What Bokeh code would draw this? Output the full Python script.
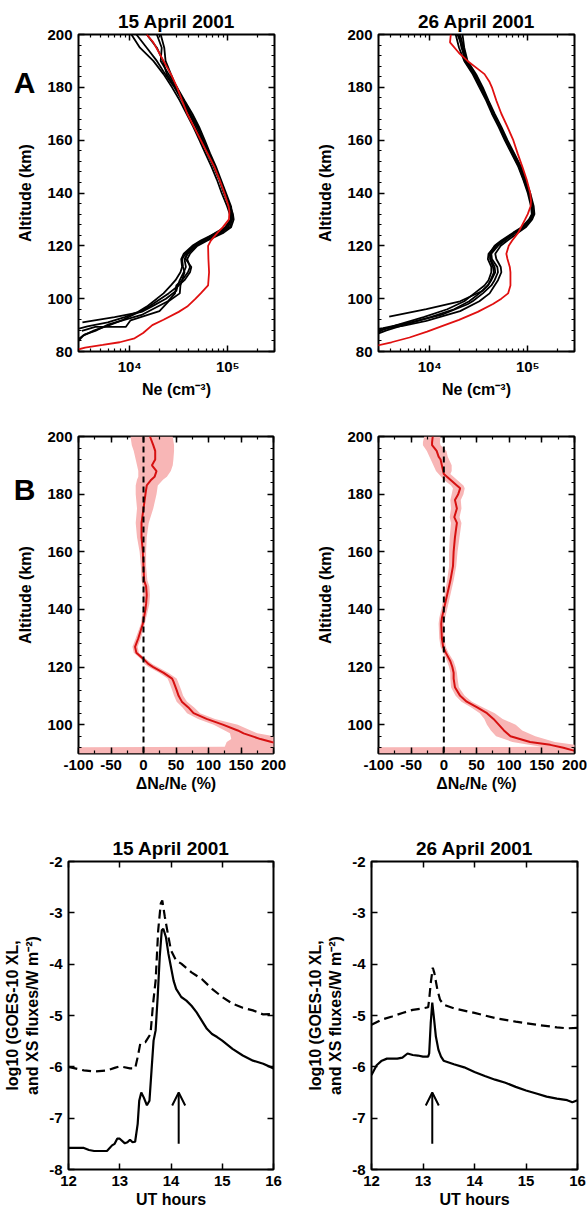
from bokeh.plotting import figure
from bokeh.layouts import column, row
from bokeh.models import (Range1d, LinearAxis, LogAxis, FixedTicker, SingleIntervalTicker,
                          Span, Arrow, OpenHead)
from bokeh.embed import file_html
from bokeh.resources import INLINE

# ---------------- DATA ----------------
TITLES = ["15 April 2001", "26 April 2001"]
LETTERS = ["A", "B"]
LETTER_ALT = [182.0, 181.6]   # altitude level at which the panel letters sit

# Panel A: electron density profiles (Ne, cm^-3) vs altitude (km)
A_ALT_UPPER = [200, 195, 190, 185, 180, 175, 170, 165, 160, 155, 150, 145, 140, 135, 132, 130,
               127, 125, 122, 120, 117, 115, 112, 110, 107, 105]

# 15 April, black profiles
L1_ALT = A_ALT_UPPER + [103, 100, 97, 95, 93, 91]
L1_NE = [1.04e4, 1.27e4, 1.74e4, 2.21e4, 2.70e4, 3.24e4, 3.80e4, 4.45e4, 5.14e4, 5.91e4, 6.82e4, 7.76e4,
         8.67e4, 9.85e4, 1.05e5, 1.08e5, 1.01e5, 8.67e4, 5.97e4, 4.70e4, 3.92e4, 3.62e4, 3.74e4, 3.56e4,
         3.24e4, 3.09e4, 2.99e4, 2.34e4, 1.67e4, 1.32e4, 7.0e3, 3.29e3]
L2_ALT = A_ALT_UPPER + [102, 99, 95.3, 91.8, 89.3, 89.3, 87.8]
L2_NE = [1.17e4, 1.49e4, 1.89e4, 2.30e4, 2.85e4, 3.42e4, 4.02e4, 4.70e4, 5.42e4, 6.21e4, 7.17e4, 8.2e4,
         9.1e4, 1.04e5, 1.10e5, 1.11e5, 1.05e5, 8.2e4, 5.52e4, 4.45e4, 3.71e4, 3.42e4, 3.5e4, 3.62e4,
         3.42e4, 3.29e4, 3.24e4, 2.49e4, 2.01e4, 1.02e4, 9.1e3, 4.45e3, 3.25e3]
L3_ALT = A_ALT_UPPER + [102, 99, 94, 90.3, 87.8, 86.5, 84.7, 83.5]
L3_NE = [1.49e4, 1.89e4, 2.18e4, 2.39e4, 2.93e4, 3.50e4, 4.12e4, 4.89e4, 5.65e4, 6.45e4, 7.4e4, 8.4e4,
         9.4e4, 1.06e5, 1.13e5, 1.15e5, 1.08e5, 9.1e4, 6.21e4, 4.89e4, 4.12e4, 3.86e4, 4.12e4, 3.92e4,
         3.42e4, 2.99e4, 2.9e4, 2.45e4, 1.35e4, 6.1e3, 4.45e3, 3.5e3, 3.0e3, 2.8e3]
L4_ALT = A_ALT_UPPER + [102, 100, 97, 95, 93, 91, 89.5, 88.7]
L4_NE = [1.89e4, 2.12e4, 2.07e4, 2.49e4, 3.04e4, 3.62e4, 4.35e4, 5.1e4, 5.82e4, 6.6e4, 7.58e4, 8.53e4,
         9.6e4, 1.08e5, 1.11e5, 1.10e5, 9.7e4, 7.76e4, 5.3e4, 4.35e4, 3.56e4, 3.35e4, 3.42e4, 3.29e4,
         2.93e4, 2.63e4, 2.21e4, 1.89e4, 1.49e4, 1.22e4, 8.9e3, 5.97e3, 3.7e3, 3.04e3]
L5_ALT = A_ALT_UPPER + [102, 100, 97, 95, 92, 90, 88, 86, 84, 83]
L5_NE = [2.07e4, 2.25e4, 2.32e4, 2.63e4, 2.99e4, 3.56e4, 4.18e4, 4.98e4, 5.52e4, 6.3e4, 7.28e4, 8.3e4,
         9.24e4, 1.05e5, 1.08e5, 1.07e5, 9.4e4, 7.58e4, 5.65e4, 4.52e4, 3.8e4, 3.71e4, 4.25e4, 4.12e4,
         3.62e4, 3.16e4, 2.49e4, 2.07e4, 1.58e4, 1.25e4, 8.53e3, 6.21e3, 4.35e3, 3.35e3, 3.0e3, 2.7e3]
# 15 April, red profile
RL_ALT = [200, 197, 193, 190, 185, 180, 175, 170, 165, 160, 155, 150, 145, 140, 135, 133, 130, 127, 125,
          122, 120, 115, 110, 105, 102, 100, 97, 95, 92, 90, 87, 85, 83.5, 82.5, 81.5, 80.5]
RL_NE = [1.49e4, 1.74e4, 2.0e4, 2.21e4, 2.63e4, 3.04e4, 3.42e4, 3.86e4, 4.52e4, 5.3e4, 6.21e4, 7.28e4,
         8.25e4, 9.24e4, 1.02e5, 1.04e5, 1.03e5, 8.88e4, 7.88e4, 6.72e4, 6.3e4, 6.35e4, 6.45e4, 6.3e4,
         5.3e4, 4.7e4, 3.86e4, 3.16e4, 2.21e4, 1.7e4, 1.37e4, 1.12e4, 7.9e3, 5.3e3, 3.5e3, 2.8e3]

# 26 April, black profiles
R1_ALT = A_ALT_UPPER + [103, 99, 96, 93.2]
R1_NE = [1.84e4, 1.99e4, 2.25e4, 2.74e4, 3.21e4, 3.77e4, 4.31e4, 5.04e4, 5.82e4, 6.82e4, 8.0e4, 9.0e4,
         1.0e5, 1.08e5, 1.10e5, 1.03e5, 8.67e4, 7.12e4, 5.38e4, 4.59e4, 4.08e4, 4.18e4, 4.59e4, 4.66e4,
         4.25e4, 3.92e4, 3.48e4, 2.04e4, 9.24e3, 3.86e3]
R2_ALT = A_ALT_UPPER + [102, 99, 97.9, 94.1, 90.9, 88.8, 88.6]
R2_NE = [1.99e4, 2.11e4, 2.34e4, 2.85e4, 3.34e4, 3.92e4, 4.49e4, 5.26e4, 6.05e4, 7.06e4, 8.25e4, 9.24e4,
         1.03e5, 1.11e5, 1.14e5, 1.08e5, 9.24e4, 7.5e4, 5.82e4, 4.97e4, 4.25e4, 4.31e4, 4.89e4, 4.97e4,
         4.59e4, 4.25e4, 3.48e4, 2.74e4, 2.43e4, 1.37e4, 6.21e3, 3.34e3, 2.97e3]
R3_ALT = A_ALT_UPPER + [102, 99, 95.3, 91.6, 89.7, 88.4]
R3_NE = [2.16e4, 2.25e4, 2.43e4, 2.97e4, 3.48e4, 3.98e4, 4.59e4, 5.38e4, 6.21e4, 7.28e4, 8.53e4, 9.53e4,
         1.06e5, 1.15e5, 1.17e5, 1.11e5, 9.53e4, 8.0e4, 6.21e4, 5.3e4, 4.66e4, 4.78e4, 5.3e4, 5.38e4,
         4.97e4, 4.59e4, 4.08e4, 3.21e4, 2.04e4, 9.24e3, 5.3e3, 3.04e3]
R4_ALT = A_ALT_UPPER + [102, 99, 96, 93, 90, 88, 87.2]
R4_NE = [1.92e4, 2.16e4, 2.28e4, 2.81e4, 3.29e4, 3.86e4, 4.38e4, 5.14e4, 5.91e4, 6.94e4, 8.12e4, 9.1e4,
         1.02e5, 1.10e5, 1.11e5, 1.06e5, 8.95e4, 7.28e4, 5.6e4, 4.66e4, 3.98e4, 3.92e4, 4.25e4, 4.25e4,
         3.98e4, 3.62e4, 2.85e4, 2.25e4, 1.51e4, 8.66e3, 4.59e3, 3.21e3, 2.97e3]
R5_ALT = A_ALT_UPPER + [102, 99, 96, 93, 90, 88, 86.8]
R5_NE = [2.04e4, 2.21e4, 2.39e4, 2.90e4, 3.39e4, 3.92e4, 4.45e4, 5.22e4, 6.02e4, 7.17e4, 8.4e4, 9.4e4,
         1.03e5, 1.11e5, 1.13e5, 1.07e5, 9.1e4, 7.4e4, 5.74e4, 4.78e4, 4.18e4, 4.12e4, 4.42e4, 4.52e4,
         4.18e4, 3.92e4, 3.21e4, 2.53e4, 1.77e4, 1.02e4, 5.38e3, 3.62e3, 2.97e3]
# 26 April, red profile
RR_ALT = [200, 197, 193, 190, 187, 185, 182, 180, 175, 170, 165, 160, 155, 150, 145, 140, 137, 135, 132,
          130, 127, 125, 122, 120, 117, 115, 112, 110, 105, 102, 100, 98, 95, 92, 90, 87.5, 85.3, 83.5, 82.1]
RR_NE = [1.64e4, 1.61e4, 1.99e4, 2.43e4, 3.09e4, 3.62e4, 4.08e4, 4.31e4, 4.78e4, 5.38e4, 6.21e4, 7.12e4,
         7.88e4, 8.8e4, 9.76e4, 1.06e5, 1.08e5, 1.07e5, 1.0e5, 9.4e4, 8.53e4, 8.0e4, 6.94e4, 6.4e4, 6.05e4,
         6.21e4, 6.56e4, 6.66e4, 6.66e4, 6.3e4, 5.38e4, 4.42e4, 3.09e4, 1.99e4, 1.42e4, 9.4e3, 6.21e3,
         4.07e3, 2.81e3]

# Panel B: relative change dNe/Ne (%) vs altitude, mean and spread
B1_ALT = [200, 197, 195, 192, 190, 188, 186, 185, 183, 180, 175, 170, 165, 160, 155, 150, 148, 145, 142,
          140, 135, 130, 127, 125, 123, 121, 120, 118, 116, 115, 112, 110, 108, 106, 104, 102, 100, 98,
          97, 95, 94, 93, 92, 91]
B1_MEAN = [10, 15, 18, 18, 13, 20, 17, 12, 5, 3, 0, -3, -3, -1, 0, 1, 4, 5, 4, 3, -1, -8, -13, -11, -1,
           8, 15, 31, 44, 46, 51, 54, 59, 69, 77, 97, 122, 145, 154, 180, 197, 215, 240, 270]
B1_BAND_ALT = [200, 197, 195, 192, 190, 188, 186, 185, 183, 180, 175, 170, 165, 160, 155, 150, 148, 145,
               142, 140, 135, 130, 127, 125, 123, 121, 120, 118, 116, 115, 112, 110, 108, 106, 104, 102,
               100, 98, 97, 95, 94, 92.3, 92.2, 90]
B1_LO = [-20, -18, -15, -12, -10, -8, -8, -10, -12, -12, -10, -12, -10, -6, -4, -3, -1, -1, -1, -1, -4,
         -12, -17, -15, -5, 2, 8, 24, 37, 39, 44, 47, 51, 60, 67, 84, 108, 125, 133, 135, 128, 125, -120, -120]
B1_HI = [45, 47, 47, 46, 45, 42, 36, 30, 22, 20, 15, 8, 5, 4, 4, 6, 9, 10, 9, 7, 2, -4, -9, -7, 3, 14, 22,
         38, 51, 53, 58, 61, 67, 78, 87, 110, 145, 165, 175, 225, 230, 240, 240, 240]

B2_ALT = [200, 198, 197, 195, 193, 192, 190, 188, 187, 185, 183, 182, 180, 178, 175, 172, 170, 165, 160,
          155, 150, 145, 140, 137, 135, 130, 127, 125, 122, 120, 118, 116, 113, 110, 108, 106, 104, 102,
          100, 98, 96, 94, 93, 92, 91, 90]
B2_MEAN = [-17, -18, -18, -11, -8, -5, -3, -1, 0, 10, 20, 25, 22, 17, 20, 16, 20, 17, 15, 14, 10, 5, 0,
           -3, -4, -3, -1, 3, 10, 13, 15, 15, 17, 25, 35, 51, 66, 76, 84, 92, 102, 132, 163, 183, 199, 215]
B2_BAND_ALT = [200, 198, 197, 195, 193, 192, 190, 188, 187, 185, 183, 182, 180, 178, 175, 172, 170, 165,
               160, 155, 150, 145, 140, 137, 135, 130, 127, 125, 122, 120, 118, 116, 113, 110, 108, 106,
               104, 102, 100, 98, 96, 94, 93, 92.3, 92.2, 90]
B2_LO = [-30, -32, -32, -26, -22, -20, -16, -12, -8, 0, 11, 14, 12, 10, 11, 9, 11, 9, 8, 8, 5, 1, -4, -7,
         -8, -7, -5, -1, 5, 8, 10, 10, 11, 18, 27, 42, 55, 62, 66, 72, 80, 105, 130, 150, -120, -120]
B2_HI = [-5, -6, -5, 4, 6, 8, 12, 12, 10, 20, 30, 32, 30, 26, 27, 24, 27, 24, 21, 19, 15, 10, 5, 2, 0, 1,
         3, 7, 15, 18, 20, 21, 23, 32, 43, 60, 78, 90, 110, 120, 140, 170, 200, 215, 240, 240]

# Panel C: GOES-10 X-ray fluxes, log10 (W m^-2) vs UT hours
C1_T = [12.0, 12.3, 12.4, 12.5, 12.75, 12.85, 12.9, 12.95, 13.0, 13.1, 13.15, 13.2, 13.25, 13.3, 13.35,
        13.38, 13.42, 13.47, 13.53, 13.58, 13.62, 13.66, 13.7, 13.74, 13.78, 13.82, 13.85, 13.9, 13.95,
        14.0, 14.05, 14.1, 14.2, 14.3, 14.4, 14.5, 14.6, 14.7, 14.8, 14.9, 15.0, 15.2, 15.4, 15.6, 15.8, 16.0]
C1_SOLID = [-7.58, -7.58, -7.62, -7.64, -7.64, -7.53, -7.5, -7.4, -7.4, -7.49, -7.47, -7.42, -7.47, -7.46,
            -7.11, -6.66, -6.5, -6.6, -6.75, -6.66, -6.07, -5.49, -5.29, -4.64, -3.86, -3.34, -3.31, -3.47,
            -3.8, -4.06, -4.32, -4.48, -4.64, -4.71, -4.81, -4.94, -5.1, -5.26, -5.36, -5.42, -5.49, -5.65,
            -5.78, -5.88, -5.94, -6.03]
C1_TD = [12.0, 12.3, 12.5, 12.75, 12.9, 13.0, 13.2, 13.3, 13.35, 13.4, 13.5, 13.6, 13.65, 13.7, 13.75,
         13.8, 13.83, 13.88, 13.95, 14.0, 14.1, 14.2, 14.4, 14.6, 14.8, 15.0, 15.2, 15.4, 15.6, 15.8, 16.0]
C1_DASH = [-6.0, -6.07, -6.09, -6.07, -6.02, -5.99, -6.03, -6.03, -5.81, -5.55, -5.52, -5.36, -4.77, -4.32,
           -3.34, -2.82, -2.76, -3.08, -3.47, -3.73, -3.93, -3.99, -4.16, -4.29, -4.48, -4.64, -4.77, -4.85,
           -4.9, -4.98, -4.97]
C2_T = [12.0, 12.1, 12.2, 12.3, 12.5, 12.6, 12.7, 12.8, 12.9, 13.0, 13.1, 13.12, 13.15, 13.18, 13.21,
        13.25, 13.3, 13.35, 13.4, 13.6, 13.8, 14.0, 14.2, 14.4, 14.6, 14.8, 15.0, 15.2, 15.4, 15.6, 15.8,
        15.9, 16.0]
C2_SOLID = [-6.16, -5.97, -5.88, -5.84, -5.84, -5.82, -5.74, -5.77, -5.78, -5.8, -5.8, -5.74, -5.15, -4.75,
            -5.02, -5.41, -5.67, -5.8, -5.88, -5.95, -6.01, -6.1, -6.18, -6.25, -6.31, -6.39, -6.46, -6.52,
            -6.58, -6.62, -6.65, -6.69, -6.65]
C2_TD = [12.0, 12.2, 12.4, 12.6, 12.8, 13.0, 13.1, 13.12, 13.15, 13.19, 13.22, 13.28, 13.33, 13.4, 13.6,
         14.0, 14.4, 14.8, 15.2, 15.6, 15.8, 16.0]
C2_DASH = [-5.18, -5.08, -5.02, -4.95, -4.89, -4.86, -4.84, -4.69, -4.37, -4.07, -4.17, -4.5, -4.69, -4.79,
           -4.86, -4.95, -5.05, -5.12, -5.18, -5.23, -5.25, -5.24]
# arrows marking the time of the profiles
ARROW_T = [14.15, 13.18]
ARROW_FROM = [-7.5, -7.5]
ARROW_TO = [-6.5, -6.5]

# ---------------- STYLE ----------------
FONT = "Liberation Sans"
RED_A = "#e01010"
RED_B = "#d61010"
PINK = "#f8b6b6"
TICK_FS = "15px"
LABEL_FS = "16px"
TITLE_FS = "19px"


def style_axis(ax, labels=True):
    ax.axis_line_color = None
    ax.major_tick_in = 6
    ax.major_tick_out = 0
    ax.minor_tick_in = 3
    ax.minor_tick_out = 0
    ax.major_tick_line_width = 1.5
    ax.minor_tick_line_width = 1.2
    ax.major_tick_line_color = "black"
    ax.minor_tick_line_color = "black"
    ax.major_label_text_font = FONT
    ax.major_label_text_font_style = "bold"
    ax.major_label_text_color = "black"
    ax.major_label_text_font_size = TICK_FS
    ax.major_label_standoff = 6
    ax.axis_label_text_font = FONT
    ax.axis_label_text_font_style = "bold"
    ax.axis_label_text_font_size = LABEL_FS
    ax.axis_label_text_color = "black"
    if not labels:
        # tick marks only: labels are not painted at all
        ax.major_label_text_alpha = 0
        ax.major_label_text_font_size = "1px"
        ax.major_label_standoff = 0


def hyphen_labels(values):
    return {float(v): str(v) for v in values}


def make_fig(width, height, borders, xr, yr, xticker, yticker, x_log=False, title=None):
    bl, br, bt, bb = borders
    p = figure(width=width, height=height, x_range=xr, y_range=yr,
               x_axis_type="log" if x_log else "linear",
               output_backend="svg", toolbar_location=None,
               min_border_left=bl, min_border_right=br, min_border_top=bt, min_border_bottom=bb)
    p.xgrid.visible = False
    p.ygrid.visible = False
    p.background_fill_color = "white"
    p.border_fill_color = "white"
    p.outline_line_color = "black"
    p.outline_line_width = 2
    p.outline_line_alpha = 1
    bottom = p.below[0]
    left = p.left[0]
    bottom.ticker = xticker
    left.ticker = yticker
    style_axis(bottom)
    style_axis(left)
    top = (LogAxis if x_log else LinearAxis)(ticker=xticker)
    style_axis(top, False)
    p.add_layout(top, "above")
    right = LinearAxis(ticker=yticker)
    style_axis(right, False)
    p.add_layout(right, "right")
    if title:
        p.title.text = title
        p.title.align = "center"
        p.title.text_font = FONT
        p.title.text_font_style = "bold"
        p.title.text_font_size = TITLE_FS
        p.title.text_color = "black"
        p.title.standoff = 5
    return p, bottom, left


def add_letter(p, letter, alt):
    # panel letter drawn as the only label of an extra, tick-less left axis
    ax = LinearAxis(ticker=FixedTicker(ticks=[alt]), major_label_overrides={float(alt): letter})
    ax.axis_line_color = None
    ax.major_tick_line_color = None
    ax.minor_tick_line_color = None
    ax.major_tick_in = 0
    ax.major_tick_out = 0
    ax.minor_tick_in = 0
    ax.minor_tick_out = 0
    ax.major_label_text_font = FONT
    ax.major_label_text_font_style = "bold"
    ax.major_label_text_font_size = "30px"
    ax.major_label_text_color = "black"
    ax.major_label_standoff = -21
    p.add_layout(ax, "left")


def log_ticker():
    return FixedTicker(ticks=[1e4, 1e5], minor_ticks=[m * 10 ** e for e in (3, 4, 5) for m in range(2, 10)])


def panel_a(width, borders, title, blacks, red_alt, red_ne, letter=None, letter_alt=None):
    p, bottom, left = make_fig(width, 400, borders, Range1d(3e3, 3e5), Range1d(80, 200), log_ticker(),
                               SingleIntervalTicker(interval=20, num_minor_ticks=5), x_log=True, title=title)
    for alt, ne in blacks:
        p.line(ne, alt, line_color="black", line_width=1.8)
    p.line(red_ne, red_alt, line_color=RED_A, line_width=1.8)
    bottom.major_label_overrides = {1e4: "10\u2074", 1e5: "10\u2075"}
    bottom.axis_label = "Ne (cm\u207b\u00b3)"
    bottom.axis_label_standoff = 3
    left.axis_label = "Altitude (km)"
    left.axis_label_standoff = 10
    if letter:
        add_letter(p, letter, letter_alt)
    return p


def panel_b(width, borders, alt, mean, balt, lo, hi, letter=None, letter_alt=None):
    p, bottom, left = make_fig(width, 395, borders, Range1d(-100, 200), Range1d(90, 200),
                               SingleIntervalTicker(interval=50, num_minor_ticks=2),
                               SingleIntervalTicker(interval=20, num_minor_ticks=5))
    p.harea(x1=lo, x2=hi, y=balt, fill_color=PINK, fill_alpha=1)
    p.add_layout(Span(location=0, dimension="height", line_color="black", line_width=2, line_dash="6 4"))
    p.line(mean, alt, line_color=RED_B, line_width=2)
    bottom.major_label_overrides = hyphen_labels([-100, -50])
    bottom.axis_label = "\u0394N\u2091/N\u2091 (%)"
    bottom.axis_label_standoff = 2
    left.axis_label = "Altitude (km)"
    left.axis_label_standoff = 10
    if letter:
        add_letter(p, letter, letter_alt)
    return p


def panel_c(width, borders, title, t, solid, td, dash, at, a0, a1):
    p, bottom, left = make_fig(width, 415, borders, Range1d(12, 16), Range1d(-8, -2),
                               SingleIntervalTicker(interval=1, num_minor_ticks=0),
                               SingleIntervalTicker(interval=1, num_minor_ticks=0), title=title)
    p.line(td, dash, line_color="black", line_width=2.2, line_dash="9 5")
    p.line(t, solid, line_color="black", line_width=2.2)
    p.add_layout(Arrow(end=OpenHead(size=13, line_width=2, line_color="black"),
                       x_start=at, y_start=a0, x_end=at, y_end=a1,
                       line_width=2, line_color="black"))
    left.major_label_overrides = hyphen_labels([-2, -3, -4, -5, -6, -7, -8])
    bottom.axis_label = "UT hours"
    bottom.axis_label_standoff = 2
    left.axis_label = "log10 (GOES-10 XL,\nand XS fluxes/W m\u207b\u00b2)"
    left.axis_label_standoff = 5
    return p


a1 = panel_a(300, (78, 26, 34, 48), TITLES[0],
             [(L1_ALT, L1_NE), (L2_ALT, L2_NE), (L3_ALT, L3_NE), (L4_ALT, L4_NE), (L5_ALT, L5_NE)],
             RL_ALT, RL_NE, letter=LETTERS[0], letter_alt=LETTER_ALT[0])
a2 = panel_a(287, (78, 13, 34, 48), TITLES[1],
             [(R1_ALT, R1_NE), (R2_ALT, R2_NE), (R3_ALT, R3_NE), (R4_ALT, R4_NE), (R5_ALT, R5_NE)],
             RR_ALT, RR_NE)
b1 = panel_b(300, (78, 27, 36, 42), B1_ALT, B1_MEAN, B1_BAND_ALT, B1_LO, B1_HI,
             letter=LETTERS[1], letter_alt=LETTER_ALT[1])
b2 = panel_b(287, (78, 13, 36, 42), B2_ALT, B2_MEAN, B2_BAND_ALT, B2_LO, B2_HI)
c1 = panel_c(300, (65, 27, 66, 41), TITLES[0], C1_T, C1_SOLID, C1_TD, C1_DASH,
             ARROW_T[0], ARROW_FROM[0], ARROW_TO[0])
c2 = panel_c(287, (71, 10, 66, 41), TITLES[1], C2_T, C2_SOLID, C2_TD, C2_DASH,
             ARROW_T[1], ARROW_FROM[1], ARROW_TO[1])

layout = column(row(a1, a2), row(b1, b2), row(c1, c2))
open("out.html", "w").write(file_html(layout, INLINE))
